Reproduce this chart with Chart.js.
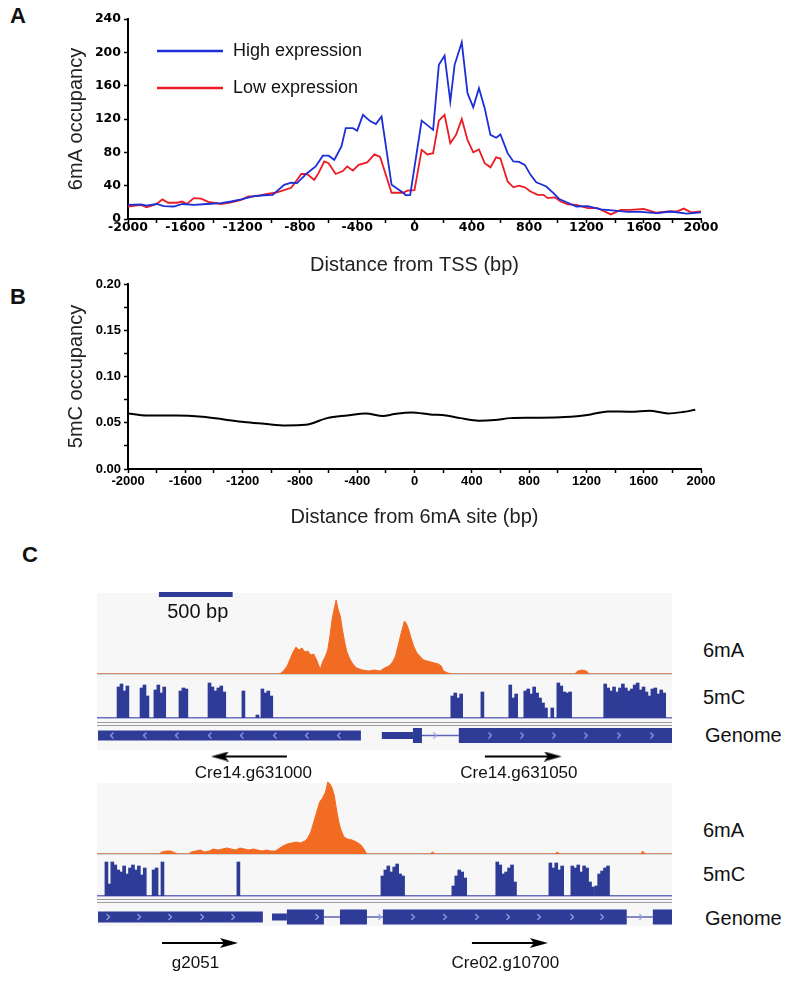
<!DOCTYPE html>
<html>
<head>
<meta charset="utf-8">
<script src="https://cdn.jsdelivr.net/npm/chart.js@4.4.1/dist/chart.umd.min.js"></script>
<style>
  body { margin: 0; background: #fff; }
  #page { position: relative; width: 800px; height: 982px; overflow: hidden; font-family: "Liberation Sans", Arial, sans-serif; color: #111; }
  canvas { position: absolute; }
  .panel { position: absolute; font-weight: bold; font-size: 22px; line-height: 22px; }
  .trk { position: absolute; font-size: 20px; line-height: 20px; transform: translateY(-50%); }
  .bg { position: absolute; left: 97px; width: 575px; background: #f7f7f7; }
  .sep { position: absolute; left: 97px; width: 575px; height: 1px; background: #9c9c9c; }
</style>
</head>
<body>
<div id="page">
  <div class="panel" style="left:10px;top:5px">A</div>
  <div class="panel" style="left:10px;top:286px">B</div>
  <div class="panel" style="left:22px;top:544px">C</div>

  <canvas id="chartA" width="760" height="277" style="left:0;top:0"></canvas>
  <canvas id="chartB" width="760" height="264" style="left:0;top:265px"></canvas>

  <div class="bg" style="top:593px;height:157px"></div>
  <div class="bg" style="top:783px;height:143px"></div>
  <div class="sep" style="top:722px"></div>
  <div class="sep" style="top:725px"></div>
  <div class="sep" style="top:899px"></div>
  <div class="sep" style="top:902px"></div>

  <canvas id="mA1" width="575" height="88" style="left:97px;top:588px"></canvas>
  <canvas id="mC1" width="575" height="43" style="left:97px;top:677px"></canvas>
  <canvas id="gen1" width="575" height="63" style="left:97px;top:725px"></canvas>
  <canvas id="mA2" width="575" height="76" style="left:97px;top:780px"></canvas>
  <canvas id="mC2" width="575" height="38" style="left:97px;top:860px"></canvas>
  <canvas id="gen2" width="575" height="78" style="left:97px;top:904px"></canvas>

  <div class="trk" style="left:703px;top:650px">6mA</div>
  <div class="trk" style="left:703px;top:697px">5mC</div>
  <div class="trk" style="left:705px;top:735px">Genome</div>
  <div class="trk" style="left:703px;top:830px">6mA</div>
  <div class="trk" style="left:703px;top:874px">5mC</div>
  <div class="trk" style="left:705px;top:918px">Genome</div>
</div>

<script>
// ---- panel A: 6mA occupancy around TSS ----
const highX = [-2000,-1910,-1870,-1800,-1750,-1680,-1620,-1540,-1450,-1350,-1280,-1210,-1120,-1050,-990,-910,-860,-820,-750,-690,-640,-600,-560,-510,-480,-430,-400,-360,-310,-270,-230,-160,-80,-60,-30,50,130,170,210,250,280,330,370,410,450,490,530,570,600,650,690,730,770,810,850,880,920,970,1010,1070,1130,1210,1300,1400,1490,1580,1690,1790,1900,2000];
const highY = [17,17.5,16,18,15.5,15,18,17,18,19,21,23.5,27.5,28.5,29,41,43.5,43,55,63,76,76,71,87,109,109,106,125,117.5,114,123,41,31.5,28.5,29,118,107,185,196,141,185,212,151,134,157,133,101,97.5,101.5,79,69,68.5,65,53,44,42,39,31,24,19.5,15,15.5,11.5,10,8.5,8.5,7,9,6.5,8];
const lowX = [-2000,-1910,-1870,-1800,-1760,-1720,-1660,-1620,-1590,-1540,-1490,-1440,-1350,-1280,-1210,-1160,-1100,-1030,-960,-860,-790,-750,-700,-670,-630,-600,-550,-500,-470,-430,-390,-330,-280,-240,-160,-80,-50,0,50,90,130,170,210,250,290,330,370,410,450,490,530,570,600,650,690,730,770,810,860,900,930,980,1020,1070,1130,1210,1280,1370,1440,1510,1600,1690,1770,1830,1880,1930,2000];
const lowY = [15,17,14,18,23.5,19.5,19.5,21,18,25,24.5,20.5,18,20,23,27,27.5,30,32,37.5,54,54,47,55,69,67,54,57.5,63,58,65,68,77.5,74.5,31.5,31.5,34,34.5,83,77.5,79,118,125,91,101,120,95,80,83.5,67,62,74,72.5,45,38,40,38,33,29,29,25,26,21,17.5,17,13,13,5.5,11,11,12,7.5,9,9,12.5,8,9];

// ---- panel B: 5mC occupancy around 6mA sites ----
const mcX = [-2000,-1870,-1660,-1480,-1330,-1190,-1050,-900,-760,-610,-470,-340,-220,-140,-20,110,220,320,450,560,670,830,1050,1230,1350,1510,1640,1770,1870,1960];
const mcY = [0.0601,0.0579,0.0579,0.0565,0.0536,0.0507,0.0489,0.0471,0.0478,0.055,0.0579,0.0601,0.0572,0.0594,0.0612,0.059,0.0579,0.055,0.0522,0.0529,0.055,0.0554,0.0561,0.059,0.0622,0.0619,0.063,0.0601,0.0615,0.064];

// ---- panel C: browser tracks (positions in bp across the shown window) ----
const regionBp = 3900;
const binBp = 20;

// locus 1
const a1X = [0,1240,1265,1290,1310,1330,1350,1370,1390,1410,1430,1450,1470,1490,1505,1515,1530,1550,1565,1580,1595,1610,1622,1635,1650,1665,1680,1695,1715,1735,1760,1800,1840,1880,1920,1950,1980,2005,2025,2045,2065,2085,2100,2115,2130,2150,2170,2195,2215,2240,2265,2290,2315,2335,2350,2380,2410,3240,3260,3290,3320,3340,3900];
const a1Y = [0,0,3,8,15,22,27,24,26,22,23,19,20,14,8,5,12,18,24,38,55,66,74,65,58,44,32,22,15,10,6,4,3,4,3,6,8,12,18,30,42,53,50,44,36,27,21,17,14,13,12,11,10,8,3,1,0,0,3,4,3,0,0];
const c1Start = [136,292,386,556,753,983,1078,1112,2400,2604,2793,2895,3078,3119,3437];
const c1Hgt = [
  [31,34,27,32],[30,33,22],[28,33,25,31],[27,30,29],[35,31,27,30,32,26],[27],[3],[29,25,27,22],
  [22,25,20,24],[26],[33,20,24],[27,29,24,31,25,20,15,10],[10],[35,32,26,25,26],
  [34,30,27,31,26,30,34,30,27,29,33,35,28,31,26,22,29,30,24,28,25]
];
const g1Mid = [[7,1790]];
const g1Utr = [[1932,2143]];
const g1Exon = [[2143,2204],[2454,3900]];
const g1Intron = [[2204,2454]];
const g1ChevL = [102,325,542,766,983,1207,1424,1641];
const g1ChevR = [2292,2665,2882,3098,3315,3539,3763];
const g1Names = ["Cre14.g631000","Cre14.g631050"];
const g1ArrFrom = [1288,2631];
const g1ArrTo = [834,3092];

// locus 2
const a2X = [0,420,440,470,500,530,550,620,640,670,700,730,760,790,820,850,880,910,940,970,1000,1030,1060,1090,1120,1150,1180,1210,1240,1260,1290,1320,1350,1380,1410,1430,1450,1470,1490,1510,1530,1550,1565,1580,1595,1610,1625,1640,1655,1675,1700,1730,1760,1790,1810,1830,2260,2275,2295,3110,3120,3140,3690,3700,3720,3900];
const a2Y = [0,0,2,3,3,1,0,0,2,3,4,2,3,5,4,5,6,5,4,6,5,4,5,4,3,4,3,3,6,8,10,11,12,11,13,16,22,32,42,52,56,62,72,70,66,58,44,32,24,17,15,14,12,9,5,0,0,2,0,0,2,0,0,3,0,0];
const c2Start = [54,949,1926,2407,2705,3065,3214,3376];
const c2Hgt = [
  [34,12,34,31,26,24,30,22,28,31,26,30,21,28,0,0,26,28,0,34],[34],[20,26,30,24,29,32,22,20],
  [10,20,26,24,18],[34,31,22,24,28,31,14],[33,28,33,26,30],[30,28,31,24,30,28,14,9],[10,22,25,28,30]
];
const g2Mid = [[7,1125]];
const g2Utr = [[1187,1288]];
const g2Exon = [[1288,1539],[1648,1831],[1939,3593],[3770,3900]];
const g2Intron = [[1539,1648],[1831,1939],[3593,3770]];
const g2ChevL = [];
const g2ChevR = [75,285,495,712,922,1492,1919,2142,2359,2576,2787,2997,3221,3424,3688];
const g2Names = ["g2051","Cre02.g10700"];
const g2ArrFrom = [441,2543];
const g2ArrTo = [895,2997];

const blueHigh = "#1c2ed6";
const redLow = "#ec1c24";
const geneBlue = "#2e3b97";
const orange = "#f26b22";

Chart.defaults.font.family = '"Liberation Sans", Arial, sans-serif';
Chart.defaults.color = "#000";
Chart.defaults.animation = false;
Chart.defaults.responsive = false;
Chart.defaults.events = [];
Chart.defaults.layout.autoPadding = false;
Chart.defaults.plugins.legend.display = false;
Chart.defaults.plugins.tooltip.enabled = false;

const pts = (xs, ys) => xs.map((x, i) => ({ x, y: ys[i] }));

// legend drawn inside plot A
const insideLegend = {
  id: "insideLegend",
  afterDraw(chart, args, opts) {
    if (!opts.show) return;
    const { ctx, chartArea } = chart;
    ctx.save();
    chart.data.datasets.forEach((ds, i) => {
      const y = chartArea.top + 32 + i * 37;
      const x = chartArea.left + 29;
      ctx.strokeStyle = ds.borderColor;
      ctx.lineWidth = 2.5;
      ctx.beginPath(); ctx.moveTo(x, y); ctx.lineTo(x + 66, y); ctx.stroke();
      ctx.fillStyle = "#111";
      ctx.font = '18px "Liberation Sans", Arial, sans-serif';
      ctx.textBaseline = "middle";
      ctx.fillText(ds.label, x + 76, y);
    });
    ctx.restore();
  }
};

function distAxis(title, tickFont, pad) {
  return {
    type: "linear", min: -2000, max: 2000,
    ticks: { stepSize: 200, maxTicksLimit: 100, autoSkip: false, maxRotation: 0, padding: pad, font: tickFont, color: "#000",
      callback: v => (v % 400 === 0 ? String(v) : "") },
    grid: { drawOnChartArea: false, tickLength: 4, tickColor: "#000", tickWidth: 1.5 },
    border: { color: "#000", width: 2 },
    title: { display: true, text: title, color: "#222", font: { size: 20 }, padding: 0 }
  };
}

const fontA = { family: '"DejaVu Sans", sans-serif', weight: "bold", size: 12.5 };
const fontB = { family: '"Liberation Sans Narrow", "Liberation Sans", Arial, sans-serif', weight: "bold", size: 13 };

const xA = distAxis("Distance from TSS (bp)", fontA, -3);
xA.afterFit = s => { s.height = 58; };

new Chart(document.getElementById("chartA"), {
  type: "line",
  data: {
    datasets: [
      { label: "High expression", data: pts(highX, highY), borderColor: blueHigh, borderWidth: 1.8, pointRadius: 0, tension: 0 },
      { label: "Low expression", data: pts(lowX, lowY), borderColor: redLow, borderWidth: 1.8, pointRadius: 0, tension: 0 }
    ]
  },
  options: {
    layout: { padding: { left: 64, top: 19, right: 59, bottom: 0 } },
    plugins: { insideLegend: { show: true } },
    scales: {
      x: xA,
      y: {
        min: 0, max: 240,
        ticks: { stepSize: 20, maxTicksLimit: 100, padding: 3, font: fontA, color: "#000", callback: v => (v % 40 === 0 ? String(v) : "") },
        grid: { drawOnChartArea: false, tickLength: 4, tickColor: "#000", tickWidth: 1.5 },
        border: { color: "#000", width: 2 },
        title: { display: true, text: "6mA occupancy", color: "#222", font: { size: 20 }, padding: 0 },
        afterFit: s => { s.width = 64; }
      }
    }
  },
  plugins: [insideLegend]
});

const xB = distAxis("Distance from 6mA site (bp)", fontB, 1);
xB.afterFit = s => { s.height = 60; };

new Chart(document.getElementById("chartB"), {
  type: "line",
  data: {
    datasets: [
      { label: "5mC", data: pts(mcX, mcY), borderColor: "#000", borderWidth: 2, pointRadius: 0, cubicInterpolationMode: "monotone" }
    ]
  },
  options: {
    layout: { padding: { left: 64, top: 19, right: 59, bottom: 0 } },
    scales: {
      x: xB,
      y: {
        min: 0, max: 0.2,
        ticks: { stepSize: 0.025, maxTicksLimit: 100, padding: 3, font: fontB, color: "#000",
          callback: v => (Math.round(v * 1000) % 50 === 0 ? v.toFixed(2) : "") },
        grid: { drawOnChartArea: false, tickLength: 4, tickColor: "#000", tickWidth: 1.5 },
        border: { color: "#000", width: 2 },
        title: { display: true, text: "5mC occupancy", color: "#222", font: { size: 20 }, padding: 0 },
        afterFit: s => { s.width = 64; }
      }
    }
  }
});

// ---- panel C helpers ----
const scaleBar = {
  id: "scaleBar",
  afterDraw(chart, args, opts) {
    if (!opts.length) return;
    const { ctx, chartArea } = chart;
    const x = chart.scales.x;
    const x0 = x.getPixelForValue(opts.start);
    const x1 = x.getPixelForValue(opts.start + opts.length);
    ctx.save();
    ctx.fillStyle = geneBlue;
    ctx.fillRect(x0, chartArea.top + 4, x1 - x0, 5);
    ctx.fillStyle = "#111";
    ctx.font = '20px "Liberation Sans", Arial, sans-serif';
    ctx.textAlign = "center";
    ctx.textBaseline = "middle";
    ctx.fillText(opts.length + " bp", (x0 + x1) / 2 + 2, chartArea.top + 24);
    ctx.restore();
  }
};

const geneLabels = {
  id: "geneLabels",
  afterDraw(chart, args, opts) {
    if (!opts.names) return;
    const { ctx } = chart;
    const x = chart.scales.x, y = chart.scales.y;
    ctx.save();
    ctx.fillStyle = "#111";
    ctx.font = '17px "Liberation Sans", Arial, sans-serif';
    ctx.textAlign = "center";
    ctx.textBaseline = "middle";
    opts.names.forEach((n, i) => {
      const xm = x.getPixelForValue((opts.from[i] + opts.to[i]) / 2);
      ctx.fillText(n, xm, y.getPixelForValue(-1) + opts.dy);
    });
    ctx.restore();
  }
};

const trackX = {
  type: "linear", min: 0, max: regionBp, offset: false,
  ticks: { display: false }, grid: { display: false },
  afterFit: s => { s.height = 0; }
};

function coverageChart(id, xs, ys, top) {
  new Chart(document.getElementById(id), {
    type: "line",
    data: { datasets: [{ data: pts(xs, ys), borderColor: orange, backgroundColor: orange, borderWidth: 1, pointRadius: 0, fill: "origin", tension: 0 }] },
    options: {
      layout: { padding: { bottom: 2 } },
      plugins: { scaleBar: id === "mA1" ? { start: 420, length: 500 } : {} },
      scales: {
        x: Object.assign({}, trackX, { border: { color: "#b0b0b0", width: 1.5 } }),
        y: { display: false, min: 0, max: top }
      }
    },
    plugins: [scaleBar]
  });
}

function methylChart(id, starts, heights, top) {
  const data = [];
  starts.forEach((s, i) => heights[i].forEach((h, j) => data.push({ x: s + j * binBp + binBp / 2, y: h })));
  new Chart(document.getElementById(id), {
    type: "bar",
    data: { datasets: [{ data, backgroundColor: geneBlue, borderWidth: 0, barThickness: 3 }] },
    options: {
      layout: { padding: { bottom: 2 } },
      scales: {
        x: Object.assign({}, trackX, { border: { color: "#6a70bf", width: 1.5 } }),
        y: { display: false, min: 0, max: top }
      }
    }
  });
}

function chevron(dir) {
  const c = document.createElement("canvas");
  c.width = 6; c.height = 8;
  const g = c.getContext("2d");
  g.strokeStyle = "#9aa2e2"; g.lineWidth = 1.2;
  g.beginPath();
  if (dir > 0) { g.moveTo(1.5, 1); g.lineTo(4.5, 4); g.lineTo(1.5, 7); }
  else { g.moveTo(4.5, 1); g.lineTo(1.5, 4); g.lineTo(4.5, 7); }
  g.stroke();
  return c;
}
function arrowHead() {
  const c = document.createElement("canvas");
  c.width = 18; c.height = 10;
  const g = c.getContext("2d");
  g.fillStyle = "#000";
  g.beginPath(); g.moveTo(0, 0); g.lineTo(18, 5); g.lineTo(0, 10); g.lineTo(4, 5); g.closePath(); g.fill();
  return c;
}
const chevR = chevron(1), chevL = chevron(-1), headImg = arrowHead();

function segLine(segs, width, color) {
  const data = [];
  segs.forEach(([s, e]) => { data.push({ x: s, y: 0 }, { x: e, y: 0 }, { x: e, y: null }); });
  return { data, borderColor: color, borderWidth: width, borderCapStyle: "butt", pointRadius: 0, spanGaps: false };
}
function chevSet(xs, img) {
  return { data: xs.map(x => ({ x, y: 0 })), showLine: false, pointStyle: img, pointRadius: 4 };
}

function genomeChart(id, g) {
  const arrows = g.from.map((f, i) => ({
    data: [{ x: f, y: -1 }, { x: g.to[i], y: -1 }],
    borderColor: "#000", borderWidth: 2, borderCapStyle: "butt",
    pointStyle: headImg, pointRadius: c => (c.dataIndex === 1 ? 9 : 0),
    pointRotation: g.to[i] > f ? 0 : 180, clip: false
  }));
  new Chart(document.getElementById(id), {
    type: "line",
    data: {
      datasets: [
        chevSet(g.chevR, chevR), chevSet(g.chevL, chevL),
        segLine(g.exon, 15, geneBlue), segLine(g.mid, g.midWidth, geneBlue), segLine(g.utr, 7, geneBlue),
        segLine(g.intron, 1.5, "#5d63b8"),
        ...arrows
      ]
    },
    options: {
      layout: { padding: 0 },
      plugins: { geneLabels: { names: g.names, from: g.from, to: g.to, dy: g.dy } },
      scales: {
        x: { type: "linear", display: false, min: 0, max: regionBp },
        y: { type: "linear", display: false, min: -2.5, max: 0.5 }
      }
    },
    plugins: [geneLabels]
  });
}

coverageChart("mA1", a1X, a1Y, 86);
methylChart("mC1", c1Start, c1Hgt, 41);
genomeChart("gen1", { exon: g1Exon, mid: g1Mid, midWidth: 10, utr: g1Utr, intron: g1Intron, chevR: g1ChevR, chevL: g1ChevL, names: g1Names, from: g1ArrFrom, to: g1ArrTo, dy: 17 });

coverageChart("mA2", a2X, a2Y, 74);
methylChart("mC2", c2Start, c2Hgt, 36);
genomeChart("gen2", { exon: g2Exon, mid: g2Mid, midWidth: 11, utr: g2Utr, intron: g2Intron, chevR: g2ChevR, chevL: g2ChevL, names: g2Names, from: g2ArrFrom, to: g2ArrTo, dy: 20 });
</script>
</body>
</html>
